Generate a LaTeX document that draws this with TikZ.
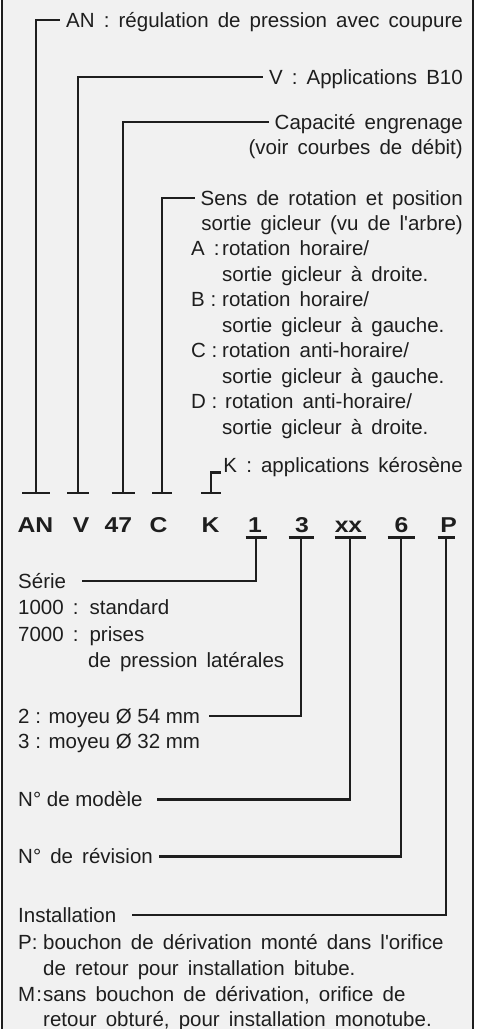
\documentclass[tikz,border=0pt]{standalone}
\usepackage{fontspec}
\setmainfont{Liberation Sans}[WordSpace=1.6]
\newfontfamily\tightfont{Liberation Sans}
\newfontfamily\codefont{Liberation Sans}[FakeStretch=1.15]
\usetikzlibrary{positioning}
\definecolor{panel}{HTML}{F1F1F1}
\definecolor{ink}{HTML}{1E1E1E}
\tikzset{
    lead/.style={draw=ink,line width=2.2pt},
    txt/.style={text=ink,font=\fontsize{20.5}{25.5}\selectfont,
        inner xsep=6pt,inner ysep=0pt,text height=14pt,text depth=0pt},
    tight/.style={txt,font=\fontsize{20.5}{25.5}\tightfont},
    code/.style={text=ink,font=\fontsize{21.5}{25}\codefont\bfseries,
        inner sep=0pt,anchor=base}
}

\begin{document}
\begin{tikzpicture}[x=1pt,y=-1pt]
    \useasboundingbox (0,0) rectangle (479,1029);
    \fill[panel] (2,0) rectangle (473,1029);
    \draw[ink,line width=2.2pt] (2,0) -- (2,1029) (473,0) -- (473,1029);

    % code letters
    \node[code] (cAN) at (35.5,532.5) {AN};
    \node[code] (cV)  at (81,532.5)   {V};
    \node[code] (cG)  at (118.5,532.5) {47};
    \node[code] (cC)  at (158.5,532.5) {C};
    \node[code] (cK)  at (210.5,532.5) {K};
    \node[code] (c1)  at (255,532.5)  {1};
    \node[code] (c3)  at (302,532.5)  {3};
    \node[code] (cx)  at (348.5,532.5) {xx};
    \node[code] (c6)  at (401.5,532.5) {6};
    \node[code] (cP)  at (448.5,532.5) {P};

    \coordinate (tAN) at (36,493);
    \coordinate (tV)  at (78,493);
    \coordinate (tG)  at (123,493);
    \coordinate (tC)  at (162,493);
    \coordinate (tK)  at (211,493);
    \coordinate (u1)  at (256,537.5);
    \coordinate (u3)  at (301,537.5);
    \coordinate (ux)  at (350,537.5);
    \coordinate (u6)  at (401,537.5);
    \coordinate (uP)  at (446,537.5);

    % upper descriptions
    \node[txt,anchor=base east] (dAN) at (469,27)  {AN : régulation de pression avec coupure};
    \node[txt,anchor=base east] (dV)  at (469,84)  {V : Applications B10};
    \node[txt,anchor=base east] (dG)  at (469,129) {Capacité engrenage};
    \node[txt,anchor=base east] (dG2) at (469,154) {(voir courbes de débit)};
    \node[txt,anchor=base east] (dC)  at (469,205) {Sens de rotation et position};
    \node[txt,anchor=base east] (dC2) at (469,230) {sortie gicleur (vu de l\textquotesingle arbre)};
    \node[txt,anchor=base west]   (kA) at (185,255.5) {A :};
    \node[tight,anchor=base west] (kB) at (185,306.5) {B :};
    \node[tight,anchor=base west] (kC) at (185,357.5) {C :};
    \node[tight,anchor=base west] (kD) at (185,408.5) {D :};
    \node[txt,anchor=base west] (dCa)  at (216,255.5) {rotation horaire/};
    \node[txt,anchor=base west] (dCa2) at (216,281)   {sortie gicleur à droite.};
    \node[txt,anchor=base west] (dCb)  at (216,306.5) {rotation horaire/};
    \node[txt,anchor=base west] (dCb2) at (216,332)   {sortie gicleur à gauche.};
    \node[txt,anchor=base west] (dCc)  at (216,357.5) {rotation anti-horaire/};
    \node[txt,anchor=base west] (dCc2) at (216,383)   {sortie gicleur à gauche.};
    \node[txt,anchor=base west] (dCd)  at (219,408.5) {rotation anti-horaire/};
    \node[txt,anchor=base west] (dCd2) at (216,434)   {sortie gicleur à droite.};
    \node[txt,anchor=base east] (dK)  at (469,472.5) {K : applications kérosène};

    % lower descriptions
    \node[txt,anchor=base west] (lS)  at (12,588)   {Série};
    \node[txt,anchor=base west] (lS1) at (12,614.5) {1000 : standard};
    \node[txt,anchor=base west] (lS2) at (12,641)   {7000 : prises};
    \node[txt,anchor=base west] (lS3) at (82,667)   {de pression latérales};
    \node[tight,anchor=base west] (lM)  at (12,723)   {2 : moyeu Ø 54 mm};
    \node[tight,anchor=base west] (lM1) at (12,748.5) {3 : moyeu Ø 32 mm};
    \node[tight,anchor=base west] (lN)  at (12,806.5) {N° de modèle};
    \node[txt,anchor=base west] (lR)  at (12,863.5) {N° de révision};
    \node[txt,anchor=base west] (lI)  at (12,922)   {Installation};
    \node[tight,anchor=base west] (lP)  at (12,949.5) {P:};
    \node[txt,anchor=base west] (lP1) at (37,949.5) {bouchon de dérivation monté dans l\textquotesingle orifice};
    \node[txt,anchor=base west] (lP2) at (37,975.5) {de retour pour installation bitube.};
    \node[tight,anchor=base west] (lQ)  at (12,1001.5) {M\hspace{1pt}:};
    \node[txt,anchor=base west] (lQ1) at (37,1001.5) {sans bouchon de dérivation, orifice de};
    \node[txt,anchor=base west] (lQ2) at (37,1026.5) {retour obturé, pour installation monotube.};

    % ticks and underlines
    \foreach \n/\w in {AN/14,V/11,G/11.5,C/10,K/10}
        \draw[lead] ([xshift=-\w pt]t\n) -- ([xshift=\w pt]t\n);
    \foreach \n/\w in {1/10.5,3/12.5,x/15.5,6/13.5,P/8.5}
        \draw[lead] ([xshift=-\w pt]u\n) -- ([xshift=\w pt]u\n);

    \draw[lead]
        (tAN) |- (dAN.west)
        (tV)  |- (dV.west)
        (tG)  |- (dG.west)
        (tC)  |- (dC.west -| dC2.west)
        (tK)  |- ([xshift=4pt]dK.base west)
        (u1)  |- ([xshift=10pt]lS.east)
        (u3)  |- ([xshift=3pt]lM.east)
        (ux)  |- ([xshift=8pt]lN.east)
        (u6)  |- (lR.east)
        (uP)  |- ([xshift=10pt]lI.east)
    ;
\end{tikzpicture}
\end{document}
